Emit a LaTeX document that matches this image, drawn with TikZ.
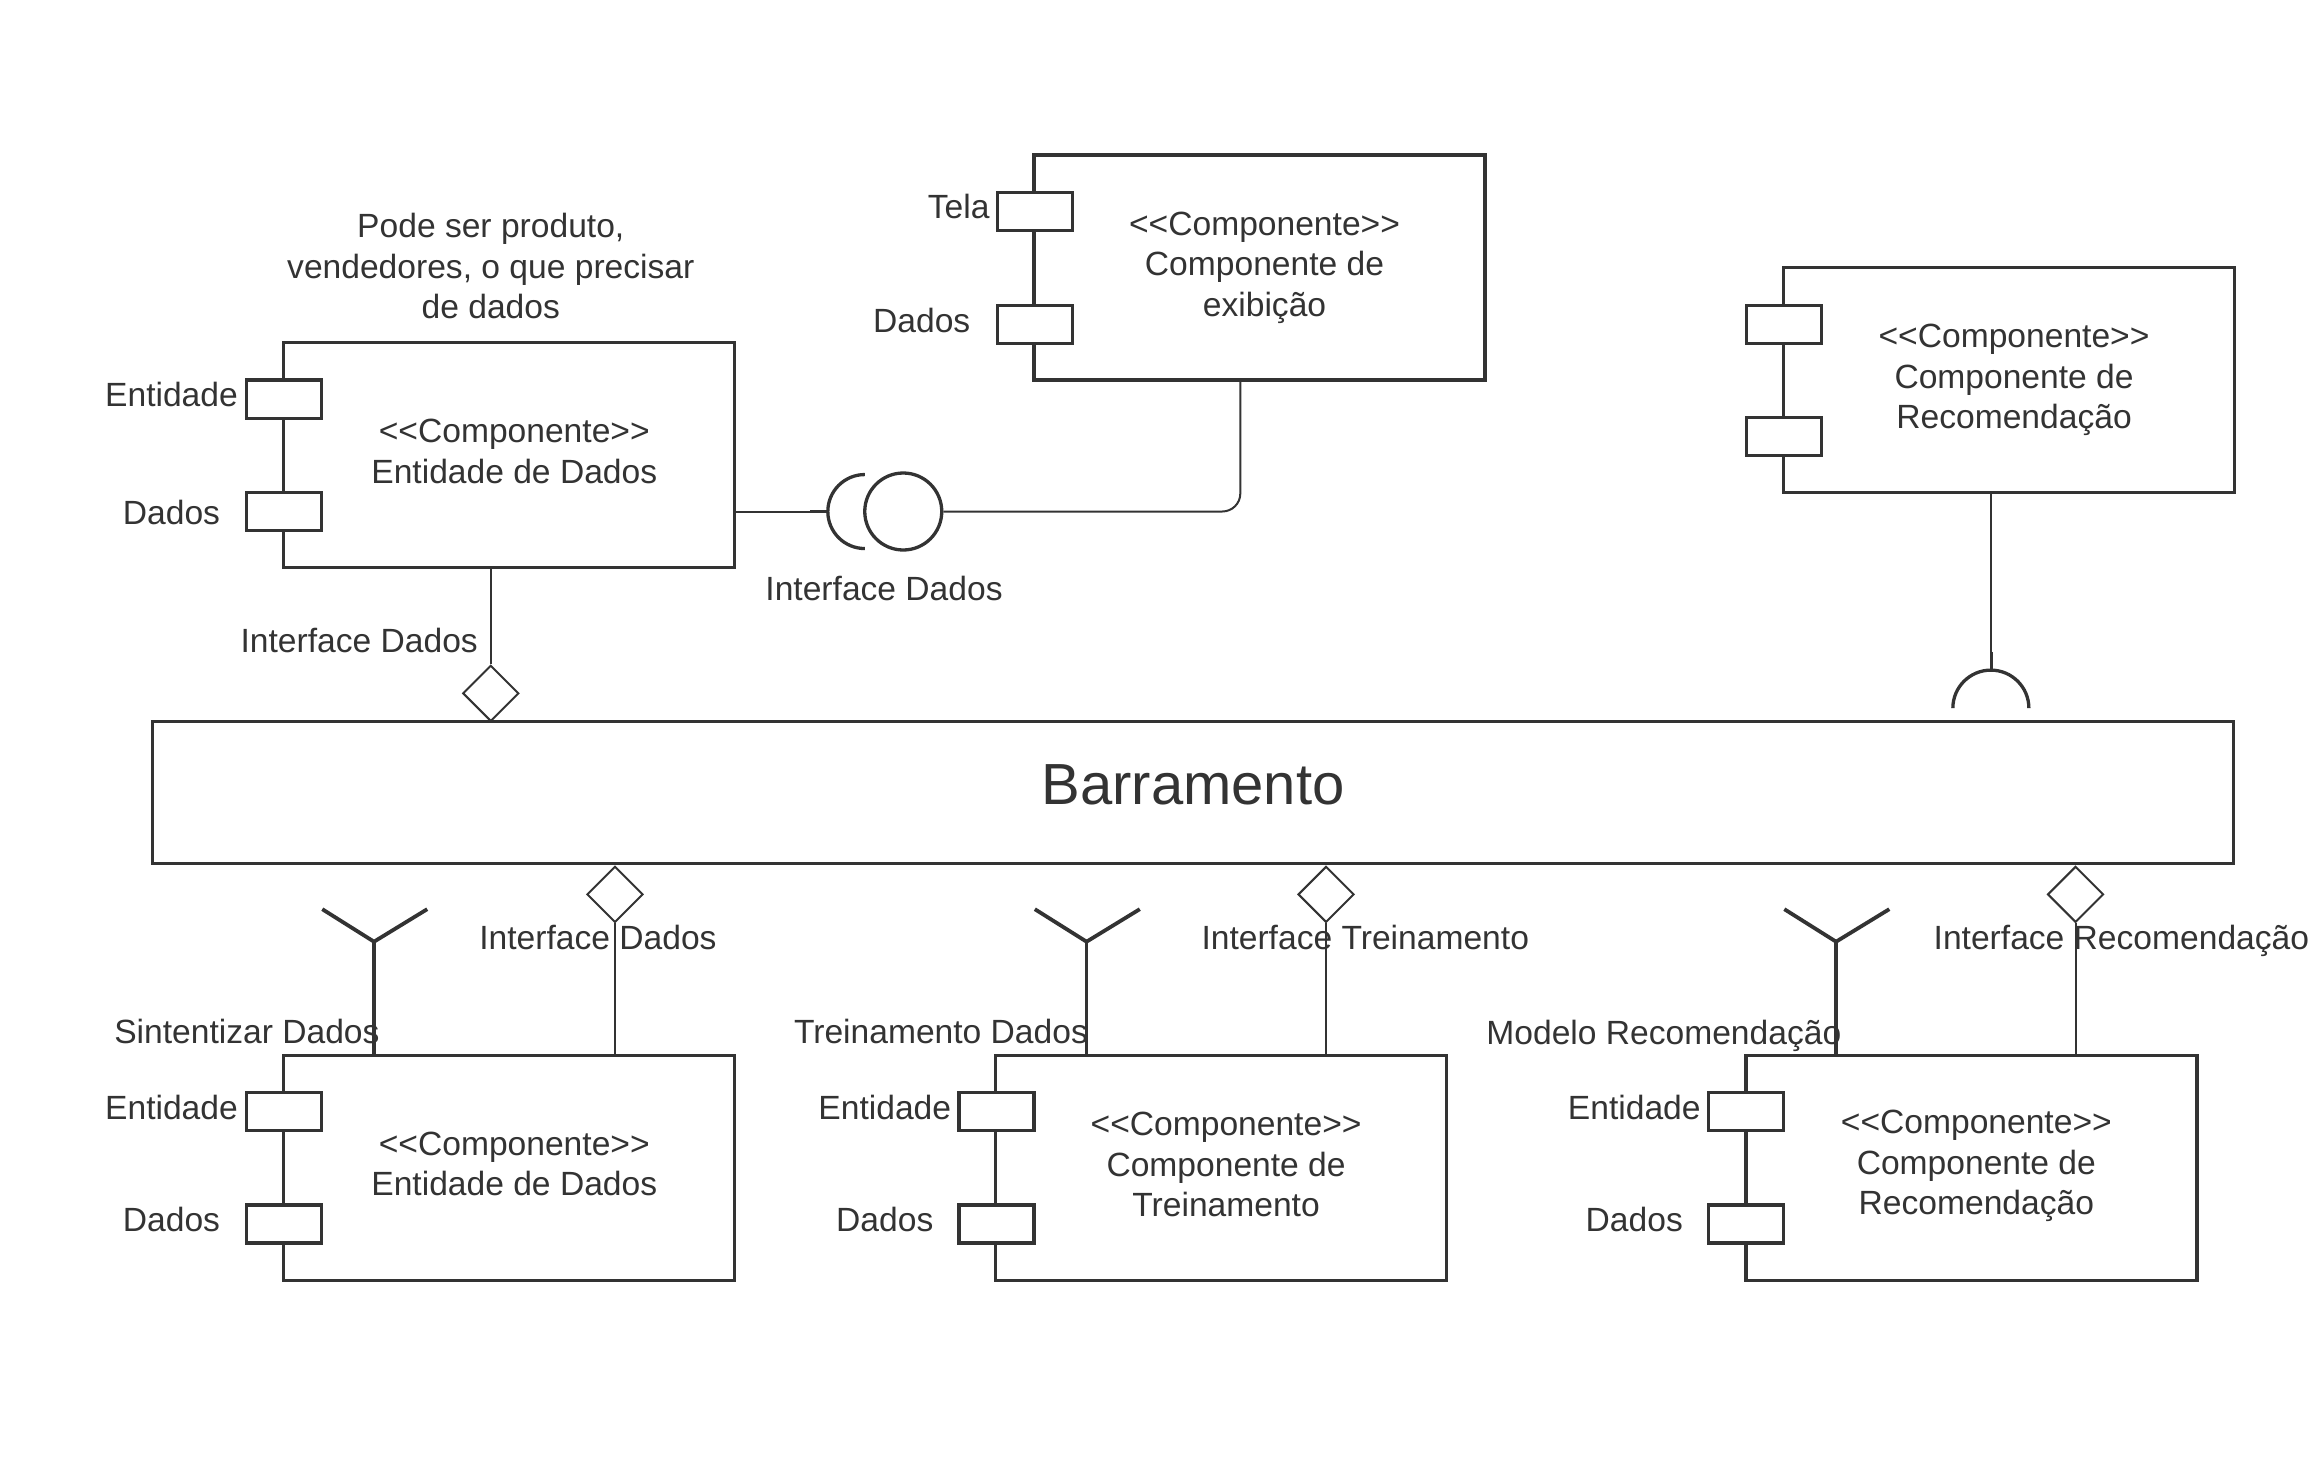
\documentclass[tikz,border=0pt]{standalone}
\usepackage{fontspec}
\setmainfont{Liberation Sans}[Ligatures=TeXOff]
\usetikzlibrary{shapes.geometric}
\definecolor{ink}{HTML}{333333}
\newcommand\myfs{\fontsize{33.6}{40.5}\selectfont}
\newcommand\bigfs{\fontsize{58}{66}\selectfont}
\begin{document}
\begin{tikzpicture}[x=1.4783pt,y=-1.4783pt,
  comp/.style={draw=ink, line width=3.3pt, fill=white, minimum width=451pt, minimum height=225pt, inner sep=0pt},
  ctext/.style={text=ink, font=\myfs, inner sep=0pt, align=center},
  port/.style={draw=ink, line width=3.3pt, fill=white, minimum width=75pt, minimum height=38pt, inner sep=0pt},
  lbl/.style={text=ink, font=\myfs, inner sep=0pt, align=center},
  iface/.style={diamond, draw=ink, line width=2pt, fill=white, minimum width=56pt, minimum height=56pt, inner sep=0pt},
  ballst/.style={circle, draw=ink, line width=3.3pt, minimum size=77pt, inner sep=0pt},
  thin/.style={draw=ink, line width=2pt},
  sock/.style={draw=ink, line width=3.3pt},
  fork/.style={draw=ink, line width=3.8pt}]
\useasboundingbox (0,0) rectangle (1568,986);

% ---------- components ----------
\node[comp, label={[ctext, xshift=5pt, yshift=4pt]center:<<Componente>>\\Entidade de Dados}] (e1) at (344.5,308) {};
\node[comp, label={[ctext, xshift=5pt]center:<<Componente>>\\Componente de\\exibição}] (exib) at (852,181) {};
\node[comp, label={[ctext, xshift=5pt]center:<<Componente>>\\Componente de\\Recomendação}] (recT) at (1359,257) {};
\node[draw=ink, line width=3.3pt, minimum width=2081pt, minimum height=142pt, inner sep=0pt] (bar) at (807,536) {};
\node[text=ink, font=\bigfs, inner sep=0pt] (bart) at (807,531) {Barramento};
\node[comp, label={[ctext, xshift=5pt, yshift=4pt]center:<<Componente>>\\Entidade de Dados}] (b1) at (344.5,790) {};
\node[comp, label={[ctext, xshift=5pt, yshift=3pt]center:<<Componente>>\\Componente de\\Treinamento}] (b2) at (826,790) {};
\node[comp, label={[ctext, xshift=5pt, yshift=2pt]center:<<Componente>>\\Componente de\\Recomendação}] (b3) at (1333.5,790) {};

% ---------- ports ----------
\node[port] (e1p1) at (192,270) {};
\node[port] (e1p2) at (192,346) {};
\node[port] (exp1) at (700,143) {};
\node[port] (exp2) at (700,219.5) {};
\node[port] (rtp1) at (1207,219.5) {};
\node[port] (rtp2) at (1207,295.5) {};
\node[port] (b1p1) at (192,752) {};
\node[port] (b1p2) at (192,828) {};
\node[port] (b2p1) at (674,752) {};
\node[port] (b2p2) at (674,828) {};
\node[port] (b3p1) at (1181,752) {};
\node[port] (b3p2) at (1181,828) {};

% ---------- port labels ----------
\node[lbl] (le1a) at (116,267) {Entidade};
\node[lbl] (le1b) at (116,347) {Dados};
\node[lbl] (lexa) at (648.5,140) {Tela};
\node[lbl] (lexb) at (623.5,217) {Dados};
\node[lbl] (lb1a) at (116,749) {Entidade};
\node[lbl] (lb1b) at (116,825) {Dados};
\node[lbl] (lb2a) at (598.5,749) {Entidade};
\node[lbl] (lb2b) at (598.5,825) {Dados};
\node[lbl] (lb3a) at (1105.5,749) {Entidade};
\node[lbl] (lb3b) at (1105.5,825) {Dados};

% ---------- other labels ----------
\node[lbl] (note) at (332,180) {Pode ser produto,\\vendedores, o que precisar\\de dados};
\node[lbl] (lball) at (598,398) {Interface Dados};
\node[lbl] (ld0) at (243,433) {Interface Dados};
\node[lbl] (ld1) at (404.5,634) {Interface Dados};
\node[lbl] (ld2) at (923.5,634) {Interface Treinamento};
\node[lbl] (ld3) at (1435,636.5) {Interface Recomendação};
\node[lbl] (lf1) at (167,698) {Sintentizar Dados};
\node[lbl] (lf2) at (636.5,698) {Treinamento Dados};
\node[lbl] (lf3) at (1125.5,700.5) {Modelo Recomendação};

% ---------- ball and socket between e1 and exib ----------
\node[ballst] (ball) at (611,346) {};
\coordinate (sockl) at (560,346);
\draw[thin] (e1.south east |- ball) -- (sockl);
\draw[sock] (548,346) -- (sockl);
\draw[sock] (585,321) arc[start angle=90, end angle=270, radius=37pt];
\coordinate (bend) at (839,346);
\draw[thin, rounded corners=18pt] (ball.east) -- (bend) -- (bend |- exib.south);

% ---------- required interface of top recommendation ----------
\coordinate (rs) at (1347,479);
\draw[thin] (rs |- recT.south) -- (1347,453);
\draw[sock] (1347,441) -- (1347,453);
\draw[sock] (1321,479) arc[start angle=180, end angle=0, radius=38pt];

% ---------- diamonds ----------
\node[iface] (d0) at (332,469) {};
\draw[thin] (d0 |- e1.south) -- (d0.north);
\node[iface] (d1) at (416,605) {};
\node[iface] (d2) at (897,605) {};
\node[iface] (d3) at (1404,605) {};
\draw[thin] (d1.south) -- (d1 |- b1.north);
\draw[thin] (d2.south) -- (d2 |- b2.north);
\draw[thin] (d3.south) -- (d3 |- b3.north);

% ---------- forks ----------
\coordinate (f1) at (253,637);
\coordinate (f2) at (735,637);
\coordinate (f3) at (1242,637);
\draw[fork] (f1 |- b1.north) -- (f1);
\draw[fork] (f1) ++(-35,-22) -- (f1) -- ++(36,-22);
\draw[fork] (f2 |- b2.north) -- (f2);
\draw[fork] (f2) ++(-35,-22) -- (f2) -- ++(36,-22);
\draw[fork] (f3 |- b3.north) -- (f3);
\draw[fork] (f3) ++(-35,-22) -- (f3) -- ++(36,-22);
\end{tikzpicture}
\end{document}
